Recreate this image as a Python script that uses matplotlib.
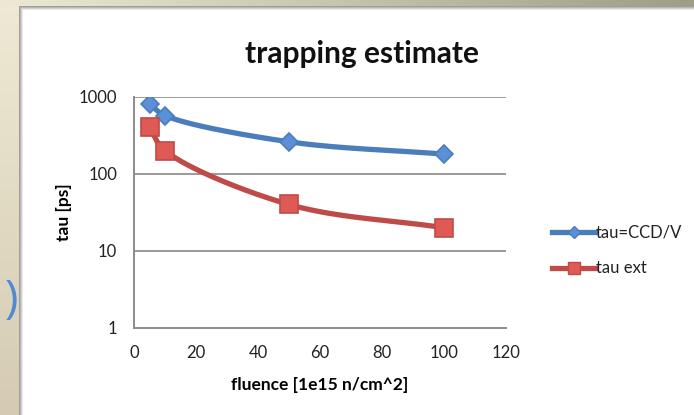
import numpy as np
import matplotlib
matplotlib.use("Agg")
import matplotlib.pyplot as plt
from matplotlib.lines import Line2D

# Data
fluence = [5, 10, 50, 100]
tau_ccd_v = [800, 570, 260, 180]
tau_ext = [400, 200, 40, 20]
series_names = ["tau=CCD/V", "tau ext"]
x_ticks = [0, 20, 40, 60, 80, 100, 120]
y_ticks = [1, 10, 100, 1000]

W, H = 694, 415
fig = plt.figure(figsize=(W / 100, H / 100), dpi=100)

# Slide background: beige strip on the left, khaki band on top, white chart box
bg = np.ones((H, W, 3))
left_w, top_h = 19, 7
tcol = np.linspace(0, 1, H)[:, None]
left_col = (1 - tcol) * np.array([239, 234, 213]) / 255 + tcol * np.array([212, 203, 178]) / 255
bg[:, :left_w, :] = left_col[:, None, :]
scol = np.linspace(0, 1, W)[:, None]
top_row = (1 - scol) * np.array([238, 233, 212]) / 255 + scol * np.array([160, 156, 134]) / 255
bg[:top_h, :, :] = top_row[None, :, :]
# shadow around the chart box
shades = [0.62, 0.72, 0.82, 0.92]
for i, s in enumerate(shades):
    bg[top_h + i:, left_w + i, :] = s
    bg[top_h + i, left_w + i:, :] = s
bgax = fig.add_axes([0, 0, 1, 1], zorder=-10)
bgax.imshow(bg, aspect="auto", extent=(0, W, H, 0), interpolation="nearest")
bgax.set_axis_off()

# closing parenthesis of the slide text beside the chart
fig.text(18.5 / W, 1 - 301 / H, ")", fontsize=33, color="#4F8AD2",
         family="Open Sans", ha="right", va="center")

font = "Lato"
ax = fig.add_axes([134 / W, 1 - 328 / H, 372 / W, 231.3 / H])
ax.set_facecolor("none")
ax.set_yscale("log")
ax.set_xlim(0, 120)
ax.set_ylim(1, 1000)
ax.set_xticks(x_ticks)
ax.set_yticks(y_ticks)
ax.set_xticklabels([str(v) for v in x_ticks], family=font, fontsize=12, color="#222222")
ax.set_yticklabels([str(v) for v in y_ticks], family=font, fontsize=12, color="#222222")
ax.yaxis.set_minor_locator(matplotlib.ticker.NullLocator())
ax.tick_params(axis="x", length=0, pad=12)
ax.tick_params(axis="y", length=0, pad=12)
for side in ["top", "right"]:
    ax.spines[side].set_visible(False)
for side in ["left", "bottom"]:
    ax.spines[side].set_color("#8c8c8c")
    ax.spines[side].set_linewidth(1.4)
for v in y_ticks[1:]:
    ax.axhline(v, color="#9a9a9a", lw=1.4, zorder=0)


def smooth(xs, ys, n=50, alpha=0.5):
    # centripetal Catmull-Rom curve in screen-like coordinates (linear x, log y)
    px = np.asarray(xs, float) / 120 * 372
    py = np.log10(np.asarray(ys, float)) / 3 * 231
    P = np.column_stack([px, py])
    P = np.vstack([2 * P[0] - P[1], P, 2 * P[-1] - P[-2]])
    out = []
    for i in range(1, len(P) - 2):
        p0, p1, p2, p3 = P[i - 1], P[i], P[i + 1], P[i + 2]
        t0 = 0.0
        t1 = t0 + np.linalg.norm(p1 - p0) ** alpha
        t2 = t1 + np.linalg.norm(p2 - p1) ** alpha
        t3 = t2 + np.linalg.norm(p3 - p2) ** alpha
        t = np.linspace(t1, t2, n)[:, None]
        a1 = (t1 - t) / (t1 - t0) * p0 + (t - t0) / (t1 - t0) * p1
        a2 = (t2 - t) / (t2 - t1) * p1 + (t - t1) / (t2 - t1) * p2
        a3 = (t3 - t) / (t3 - t2) * p2 + (t - t2) / (t3 - t2) * p3
        b1 = (t2 - t) / (t2 - t0) * a1 + (t - t0) / (t2 - t0) * a2
        b2 = (t3 - t) / (t3 - t1) * a2 + (t - t1) / (t3 - t1) * a3
        out.append((t2 - t) / (t2 - t1) * b1 + (t - t1) / (t2 - t1) * b2)
    c = np.vstack(out)
    return c[:, 0] / 372 * 120, 10 ** (c[:, 1] / 231 * 3)


blue, blue_fill = "#4A7EBB", "#5B8FD6"
red, red_fill = "#BE4B48", "#E05A55"
sx, sy = smooth(fluence, tau_ccd_v)
ax.plot(sx, sy, color=blue, lw=3.8, solid_capstyle="round", zorder=3)
ax.plot(fluence, tau_ccd_v, ls="none", marker="D", ms=9, mfc=blue_fill, mec=blue,
        mew=1.2, zorder=4)
sx, sy = smooth(fluence, tau_ext)
ax.plot(sx, sy, color=red, lw=3.8, solid_capstyle="round", zorder=3)
ax.plot(fluence, tau_ext, ls="none", marker="s", ms=13, mfc=red_fill, mec=red,
        mew=1.2, zorder=4)

ax.set_xlabel("fluence [1e15 n/cm^2]", family=font, fontsize=12.5, fontweight="bold",
              labelpad=12)
ax.set_ylabel("tau [ps]", family=font, fontsize=12.5, fontweight="bold", labelpad=5)

fig.text(362 / W, 1 - 63 / H, "trapping estimate", family=font, fontsize=21.5,
         fontweight="bold", ha="center", va="baseline", color="#111111")

# legend entries drawn in figure pixels
legend_styles = [(blue, blue_fill, "D", 6), (red, red_fill, "s", 8)]
legend_rows = [232, 268]
for name, (c, fc, m, ms), yrow in zip(series_names, legend_styles, legend_rows):
    yf = 1 - yrow / H
    fig.add_artist(Line2D([552 / W, 595 / W], [yf, yf], color=c, lw=3.8,
                          transform=fig.transFigure))
    fig.add_artist(Line2D([573.5 / W], [yf], color=c, marker=m, ms=ms, mfc=fc, mec=c,
                          ls="none", transform=fig.transFigure))
    fig.text(596 / W, yf, name, family=font, fontsize=12, ha="left", va="center",
             color="#222222")

fig.savefig("out.png", dpi=100)
